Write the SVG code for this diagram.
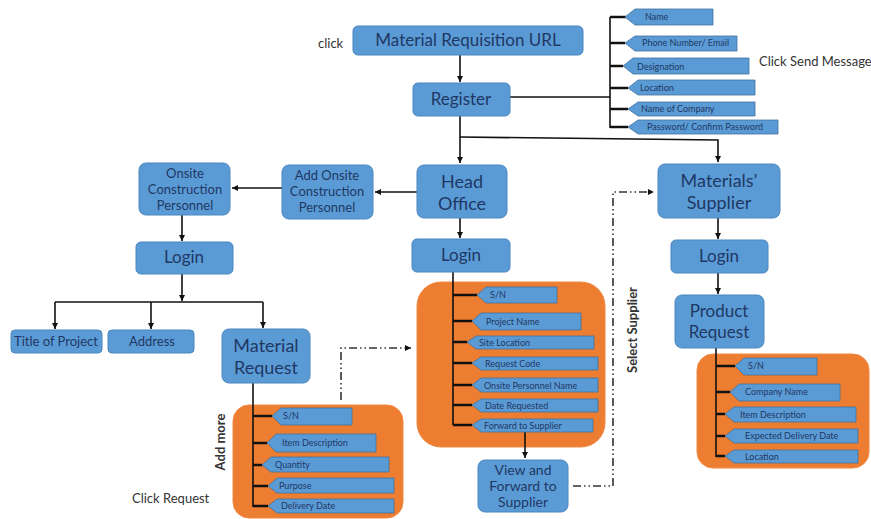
<svg xmlns="http://www.w3.org/2000/svg" width="871" height="519" viewBox="0 0 871 519">
<style>
.box{fill:#5b9bd5;stroke:#4a86c0;stroke-width:1}
.or{fill:#ed7d31;stroke:#f08a45;stroke-width:1}
.tab{fill:#5b9bd5;stroke:#41719c;stroke-width:0.8}
.t{font-family:Lato,"Liberation Sans",sans-serif;fill:#1f3864;text-anchor:middle}
.tt{font-family:Lato,"Liberation Sans",sans-serif;fill:#1f3864;font-size:9px}
.lbl{font-family:Lato,"Liberation Sans",sans-serif;fill:#333;font-size:13px}
.c{fill:none;stroke:#111;stroke-width:1.6}
.s{fill:none;stroke:#111;stroke-width:2.6}
.d{fill:none;stroke:#333;stroke-width:1.6;stroke-dasharray:8 3 1.5 3 1.5 3}
</style>
<defs>
<marker id="ah" markerWidth="8" markerHeight="8" refX="6" refY="4" orient="auto" markerUnits="userSpaceOnUse">
<path d="M0,1 L6,4 L0,7 Z" fill="#111"/>
</marker>
</defs>

<!-- orange panels -->
<rect id="panel-ho" class="or" x="417" y="282" width="188" height="165" rx="24"/>
<rect id="panel-mr" class="or" x="233" y="405" width="170" height="113" rx="16"/>
<rect id="panel-pr" class="or" x="697" y="354" width="172" height="114" rx="16"/>

<g id="connectors">
<path class="c" d="M460,55 V82" marker-end="url(#ah)"/>
<path class="c" d="M510,97 H610"/>
<path class="c" d="M610,17 V128"/>
<path class="c" d="M460,116 V163" marker-end="url(#ah)"/>
<path class="c" d="M460,137 L718,140 V162" marker-end="url(#ah)"/>
<path class="c" d="M460,218 V238" marker-end="url(#ah)"/>
<path class="c" d="M718,218 V239" marker-end="url(#ah)"/>
<path class="c" d="M417,192 H375" marker-end="url(#ah)"/>
<path class="c" d="M282,188 H232" marker-end="url(#ah)"/>
<path class="c" d="M182,215 V241" marker-end="url(#ah)"/>
<path class="c" d="M182,274 V301" marker-end="url(#ah)"/>
<path class="c" d="M55,302 H263"/>
<path class="c" d="M55,302 V329" marker-end="url(#ah)"/>
<path class="c" d="M151,302 V329" marker-end="url(#ah)"/>
<path class="c" d="M263,302 V328" marker-end="url(#ah)"/>
<path class="c" d="M718,273 V294" marker-end="url(#ah)"/>
<path class="c" d="M525,426 V458" marker-end="url(#ah)"/>
<!-- buses -->
<path class="c" d="M453,272 V425"/>
<path class="c" d="M253,383 V507"/>
<path class="c" d="M716,348 V457"/>
<!-- stubs register -->
<path class="s" d="M610,17 H626 M610,43 H625 M610,66 H623 M610,88 H628 M610,109 H628 M610,127 H628"/>
<!-- stubs head office -->
<path class="s" d="M453,295 H477 M453,321 H472 M453,342 H467 M453,363 H472 M453,385 H472 M453,405 H472 M453,425 H472"/>
<!-- stubs material request -->
<path class="s" d="M253,416 H272 M253,443 H267 M253,465 H262 M253,486 H268 M253,506 H268"/>
<!-- stubs product request -->
<path class="s" d="M716,366 H735 M716,392 H730 M716,414 H725 M716,436 H725 M716,456 H725"/>
<!-- dash-dot -->
<path class="d" d="M341,400 V348 H411" marker-end="url(#ah)"/>
<path class="d" d="M573,486 H613 V192 H654" marker-end="url(#ah)"/>
</g>

<g id="url"><rect class="box" x="353" y="26" width="230" height="29" rx="5"/><text class="t" x="468" y="46" font-size="17">Material Requisition URL</text></g>
<g id="register"><rect class="box" x="413" y="83" width="97" height="33" rx="5"/><text class="t" x="461" y="105" font-size="17">Register</text></g>
<g id="head-office"><rect class="box" x="417" y="165" width="90" height="53" rx="7"/><text class="t" x="462" y="188" font-size="18">Head</text><text class="t" x="462" y="210" font-size="18">Office</text></g>
<g id="supplier"><rect class="box" x="658" y="164" width="122" height="54" rx="7"/><text class="t" x="719" y="187" font-size="18">Materials’</text><text class="t" x="719" y="209" font-size="18">Supplier</text></g>
<g id="ho-login"><rect class="box" x="412" y="239" width="98" height="33" rx="5"/><text class="t" x="461" y="261" font-size="17">Login</text></g>
<g id="sup-login"><rect class="box" x="671" y="240" width="97" height="33" rx="5"/><text class="t" x="719" y="262" font-size="17">Login</text></g>
<g id="add-onsite"><rect class="box" x="282" y="165" width="91" height="54" rx="7"/><text class="t" x="327" y="180" font-size="13">Add Onsite</text><text class="t" x="327" y="196" font-size="13">Construction</text><text class="t" x="327" y="212" font-size="13">Personnel</text></g>
<g id="onsite"><rect class="box" x="139" y="163" width="91" height="52" rx="7"/><text class="t" x="185" y="178" font-size="13">Onsite</text><text class="t" x="185" y="194" font-size="13">Construction</text><text class="t" x="185" y="210" font-size="13">Personnel</text></g>
<g id="os-login"><rect class="box" x="136" y="242" width="97" height="32" rx="5"/><text class="t" x="184" y="263" font-size="17">Login</text></g>
<g id="title"><rect class="box" x="11" y="330" width="91" height="23" rx="4"/><text class="t" x="56" y="346" font-size="13">Title of Project</text></g>
<g id="address"><rect class="box" x="108" y="330" width="86" height="23" rx="4"/><text class="t" x="152" y="346" font-size="13">Address</text></g>
<g id="material-request"><rect class="box" x="222" y="329" width="88" height="54" rx="7"/><text class="t" x="266" y="352" font-size="18">Material</text><text class="t" x="266" y="374" font-size="18">Request</text></g>
<g id="view-forward"><rect class="box" x="478" y="460" width="90" height="52" rx="7"/><text class="t" x="523" y="475" font-size="14">View and</text><text class="t" x="523" y="491" font-size="14">Forward to</text><text class="t" x="523" y="507" font-size="14">Supplier</text></g>
<g id="product-request"><rect class="box" x="675" y="295" width="89" height="53" rx="7"/><text class="t" x="719" y="317" font-size="17">Product</text><text class="t" x="719" y="338" font-size="17">Request</text></g>

<g id="reg-fields">
<polygon class="tab" points="625,17 635,9 713,9 713,25 635,25"/><text class="tt" x="645" y="20">Name</text>
<polygon class="tab" points="625,43 635,36 737,36 737,51 635,51"/><text class="tt" x="642" y="46">Phone Number/ Email</text>
<polygon class="tab" points="623,66 633,58 749,58 749,74 633,74"/><text class="tt" x="637" y="70">Designation</text>
<polygon class="tab" points="628,88 638,80 755,80 755,95 638,95"/><text class="tt" x="640" y="91">Location</text>
<polygon class="tab" points="628,109 638,102 755,102 755,116 638,116"/><text class="tt" x="641" y="112">Name of Company</text>
<polygon class="tab" points="628,127 638,120 778,120 778,134 638,134"/><text class="tt" x="647" y="130">Password/ Confirm Password</text>
</g>

<g id="ho-fields">
<polygon class="tab" points="477,295 486,287 557,287 557,303 486,303"/><text class="tt" x="490" y="298">S/N</text>
<polygon class="tab" points="472,321 481,313 581,313 581,330 481,330"/><text class="tt" x="486" y="325">Project Name</text>
<polygon class="tab" points="467,342 476,336 594,336 594,349 476,349"/><text class="tt" x="479" y="346">Site Location</text>
<polygon class="tab" points="472,363 481,357 598,357 598,370 481,370"/><text class="tt" x="485" y="367">Request Code</text>
<polygon class="tab" points="472,385 481,378 598,378 598,392 481,392"/><text class="tt" x="484" y="389">Onsite Personnel Name</text>
<polygon class="tab" points="472,405 481,399 598,399 598,412 481,412"/><text class="tt" x="485" y="409">Date Requested</text>
<polygon class="tab" points="472,425 481,419 593,419 593,432 481,432"/><text class="tt" x="484" y="429">Forward to Supplier</text>
</g>

<g id="mr-fields">
<polygon class="tab" points="272,416 281,408 352,408 352,425 281,425"/><text class="tt" x="283" y="419">S/N</text>
<polygon class="tab" points="267,443 276,434 376,434 376,452 276,452"/><text class="tt" x="282" y="446">Item Description</text>
<polygon class="tab" points="262,465 271,457 389,457 389,472 271,472"/><text class="tt" x="275" y="468">Quantity</text>
<polygon class="tab" points="268,486 277,478 394,478 394,493 277,493"/><text class="tt" x="279" y="489">Purpose</text>
<polygon class="tab" points="268,506 277,499 394,499 394,513 277,513"/><text class="tt" x="281" y="509">Delivery Date</text>
</g>

<g id="pr-fields">
<polygon class="tab" points="735,366 744,358 817,358 817,375 744,375"/><text class="tt" x="748" y="369">S/N</text>
<polygon class="tab" points="730,392 739,384 840,384 840,401 739,401"/><text class="tt" x="745" y="395">Company Name</text>
<polygon class="tab" points="725,414 734,407 856,407 856,422 734,422"/><text class="tt" x="740" y="418">Item Description</text>
<polygon class="tab" points="725,436 734,429 858,429 858,443 734,443"/><text class="tt" x="745" y="439">Expected  Delivery Date</text>
<polygon class="tab" points="725,456 734,450 858,450 858,463 734,463"/><text class="tt" x="745" y="460">Location</text>
</g>

<g id="labels">
<text class="lbl" x="318" y="48">click</text>
<text class="lbl" x="759" y="66">Click Send Message</text>
<text class="lbl" x="132" y="503">Click Request</text>
<text class="lbl" font-weight="bold" text-anchor="middle" transform="translate(637,330) rotate(-90)">Select Supplier</text>
<text class="lbl" font-weight="bold" text-anchor="middle" transform="translate(225,442) rotate(-90)">Add more</text>
</g>
</svg>
